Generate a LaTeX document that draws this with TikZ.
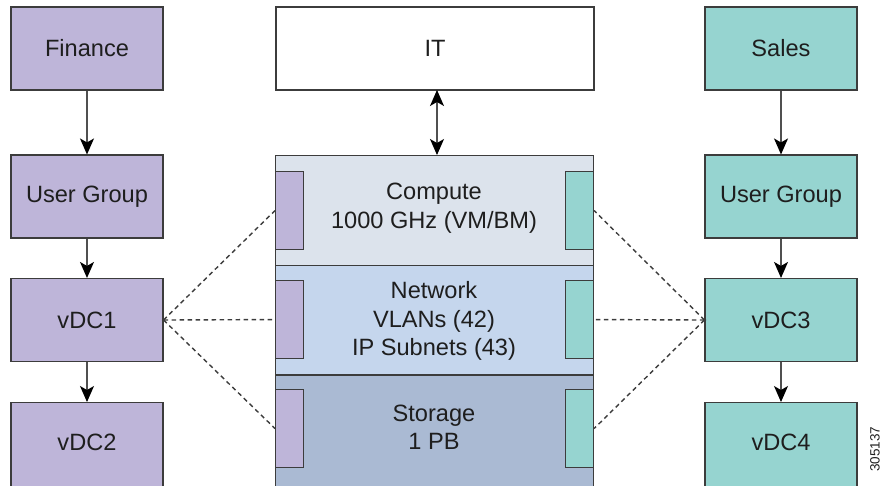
\documentclass[tikz,border=0pt]{standalone}
\usepackage{fontspec}
\setmainfont{Liberation Sans}
\usetikzlibrary{arrows.meta}
\definecolor{purp}{RGB}{190,181,217}
\definecolor{teal2}{RGB}{150,212,208}
\definecolor{compc}{RGB}{220,227,236}
\definecolor{netc}{RGB}{197,214,237}
\definecolor{storc}{RGB}{170,186,211}
\definecolor{edge}{RGB}{60,60,60}
\definecolor{txt}{RGB}{30,30,30}
\begin{document}
\begin{tikzpicture}[x=1pt,y=-1pt,
  box/.style={draw=edge,line width=1.1pt,minimum width=152pt,minimum height=83pt,inner sep=0pt,font=\fontsize{23.6}{28.4}\selectfont,align=center,text=txt},
  pbox/.style={box,fill=purp},
  tbox/.style={box,fill=teal2},
  sect/.style={draw=edge,line width=1.1pt,minimum width=318pt,inner sep=0pt,anchor=north west},
  inner/.style={draw=edge,line width=1.1pt,minimum width=28pt,minimum height=78pt,inner sep=0pt,anchor=north west},
  lbl/.style={font=\fontsize{23.6}{28.4}\selectfont,align=center,inner sep=0pt,text=txt},
  arr/.style={draw={rgb,255:red,80;green,80;blue,80},line width=1.1pt,-{Stealth[length=16pt,width=14pt,inset=4pt,black]}},
  darr/.style={draw={rgb,255:red,80;green,80;blue,80},line width=1.1pt,{Stealth[length=16pt,width=14pt,inset=4pt,black]}-{Stealth[length=16pt,width=14pt,inset=4pt,black]}},
  dsh/.style={draw={rgb,255:red,60;green,60;blue,60},line width=1.4pt,dash pattern=on 4.5pt off 3.5pt}
]
\useasboundingbox (0,0) rectangle (884,485);
% left column
\node[pbox] (fin) at (87,48.5) {Finance};
\node[pbox] (ugl) at (87,196.5) {User Group};
\node[pbox] (v1) at (87,320) {vDC1};
\node[pbox,minimum height=88pt,anchor=north] (v2) at (87,402) {};
\node[lbl] (v2t) at (87,442) {vDC2};
% right column
\node[tbox] (sal) at (781,48.5) {Sales};
\node[tbox] (ugr) at (781,196.5) {User Group};
\node[tbox] (v3) at (781,320) {vDC3};
\node[tbox,minimum height=88pt,anchor=north] (v4) at (781,402) {};
\node[lbl] (v4t) at (781,442) {vDC4};
% IT
\node[box,fill=white,minimum width=318pt] (it) at (435,48.5) {IT};
% stack
\node[sect,fill=compc,minimum height=110pt] (comp) at (275,155) {};
\node[sect,fill=netc,minimum height=110pt] (net) at (275,265) {};
\node[sect,fill=storc,minimum height=115pt] (stor) at (275,375) {};
\draw[draw=edge,line width=2.8pt] (stor.north west) -- (stor.north east);
\node[lbl] (compt) at (434,208) {Compute\\1000 GHz (VM/BM)};
\node[lbl] (nett) at (434,321) {Network\\VLANs (42)\\IP Subnets (43)};
\node[lbl] (stort) at (434,427) {Storage\\1 PB};
% inner rectangles
\node[inner,fill=purp] (lc) at (275,171) {};
\node[inner,fill=purp] (ln) at (275,280) {};
\node[inner,fill=purp] (ls) at (275,389) {};
\node[inner,fill=teal2] (rc) at (565,171) {};
\node[inner,fill=teal2] (rn) at (565,280) {};
\node[inner,fill=teal2] (rs) at (565,389) {};
% arrows
\draw[arr] (fin.south) -- (ugl.north);
\draw[arr] (ugl.south) -- (v1.north);
\draw[arr] (v1.south) -- (v2.north);
\draw[arr] (sal.south) -- (ugr.north);
\draw[arr] (ugr.south) -- (v3.north);
\draw[arr] (v3.south) -- (v4.north);
\coordinate (ita) at (437,90);
\coordinate (stka) at (437,155);
\draw[darr] (ita) -- (stka);
% dashed links
\draw[dsh] (v1.east) -- (lc.west);
\draw[dsh] (v1.east) -- (ln.west);
\draw[dsh] (v1.east) -- (ls.west);
\draw[dsh] (v3.west) -- (rc.east);
\draw[dsh] (v3.west) -- (rn.east);
\draw[dsh] (v3.west) -- (rs.east);
\fill[edge] (v1.east) circle (1.8pt);
\fill[edge] (v3.west) circle (1.8pt);
% figure number
\node[rotate=90,font=\fontsize{13.5}{15}\selectfont,inner sep=0pt,text=txt] (fig) at (875,449) {305137};
\end{tikzpicture}
\end{document}
